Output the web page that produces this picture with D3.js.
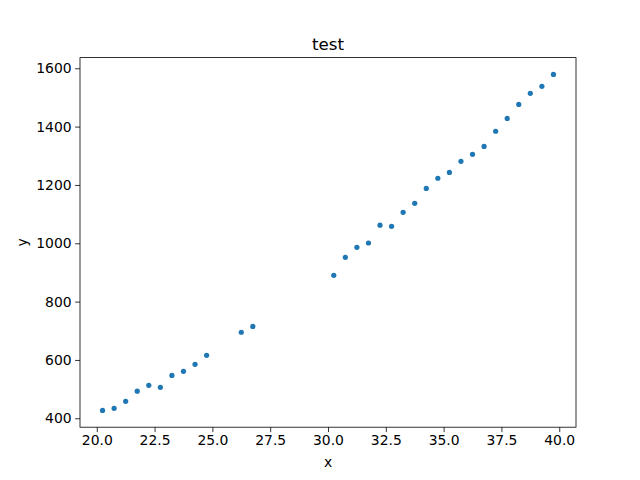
<!DOCTYPE html>
<html><head><meta charset="utf-8">
<script src="https://cdn.jsdelivr.net/npm/d3@7"></script>
<style>body{margin:0;background:#fff}svg{display:block}text{font-family:"DejaVu Sans",sans-serif;fill:#000}</style>
</head><body>
<script>
const xValues = [20.25,20.75,21.25,21.75,22.25,22.75,23.25,23.75,24.25,24.75,
  26.25,26.75,
  30.25,30.75,31.25,31.75,32.25,32.75,33.25,33.75,34.25,34.75,35.25,35.75,36.25,36.75,37.25,37.75,38.25,38.75,39.25,39.75];
const yValues = [427,434,458,493,513,506,547,561,585,616,
  695,715,
  890,952,986,1001,1062,1058,1106,1137,1188,1223,1243,1281,1305,1332,1384,1428,1476,1514,1538,1579];
const xTicks = [20,22.5,25,27.5,30,32.5,35,37.5,40];
const yTicks = [400,600,800,1000,1200,1400,1600];
const title = "test", xLabel = "x", yLabel = "y";

const W=640,H=480, L=80, R=576, T=57.6, B=427.2;
const svg=d3.select("body").append("svg").attr("width",W).attr("height",H);
const xe=d3.extent(xValues), ye=d3.extent(yValues);
const xm=(xe[1]-xe[0])*0.05, ym=(ye[1]-ye[0])*0.05;
const x=d3.scaleLinear().domain([xe[0]-xm,xe[1]+xm]).range([L,R]);
const y=d3.scaleLinear().domain([ye[0]-ym,ye[1]+ym]).range([B,T]);

const data=xValues.map((v,i)=>({x:v,y:yValues[i]}));
svg.append("g").selectAll("circle").data(data).join("circle")
  .attr("cx",d=>x(d.x)).attr("cy",d=>y(d.y)).attr("r",2.6).attr("fill","#1f77b4");

const xa=svg.append("g").attr("transform",`translate(0,${B})`)
  .call(d3.axisBottom(x).tickValues(xTicks).tickFormat(d3.format(".1f")).tickSize(4.9).tickPadding(3.5));
const ya=svg.append("g").attr("transform",`translate(${L},0)`)
  .call(d3.axisLeft(y).tickValues(yTicks).tickFormat(d3.format("d")).tickSize(4.9).tickPadding(3.5));
[xa,ya].forEach(a=>{a.select(".domain").remove();a.selectAll("text").attr("font-size","13.9px").attr("font-family","DejaVu Sans").attr("fill","#000");a.selectAll("line").attr("stroke","#000").attr("stroke-width",0.8);});

svg.append("rect").attr("x",L).attr("y",T).attr("width",R-L).attr("height",B-T)
  .attr("fill","none").attr("stroke","#000").attr("stroke-width",0.8);

svg.append("text").attr("x",(L+R)/2).attr("y",T-8).attr("text-anchor","middle").attr("font-size","16.7px").text(title);
svg.append("text").attr("x",(L+R)/2).attr("y",467).attr("text-anchor","middle").attr("font-size","13.9px").text(xLabel);
svg.append("text").attr("transform",`translate(27,${(T+B)/2}) rotate(-90)`).attr("text-anchor","middle").attr("font-size","13.9px").text(yLabel);
</script>
</body></html>
